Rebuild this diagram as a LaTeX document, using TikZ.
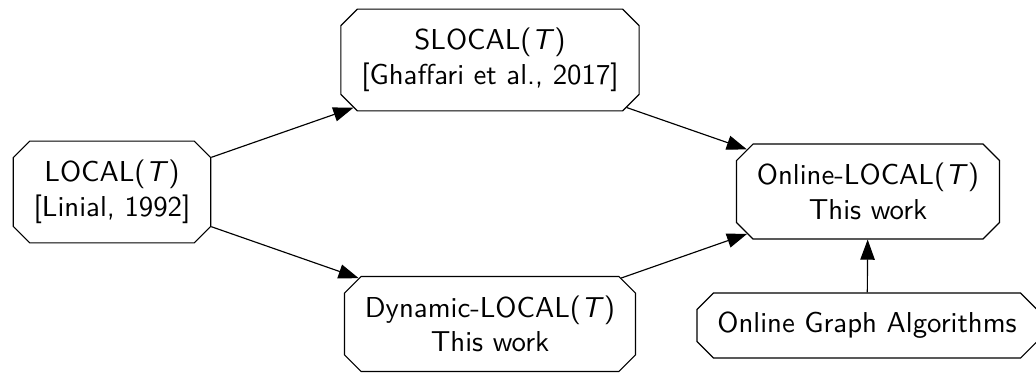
\documentclass[tikz,border=0pt]{standalone}
\usetikzlibrary{shapes.misc,arrows.meta}
\begin{document}
\begin{tikzpicture}[x=0.3472pt,y=-0.3472pt,
  box/.style={draw,chamfered rectangle,align=center,font=\sffamily,line width=0.4pt,inner xsep=4.2pt,inner ysep=3.8pt},
  arr/.style={-{Triangle[length=7pt,width=5pt]},line width=0.4pt}]
\useasboundingbox (0,0) rectangle (1036,372);
\node[box] (local) at (112,192) {LOCAL(\textit{T}\/)\\ {[}Linial, 1992{]}};
\node[box] (slocal) at (490,60) {SLOCAL(\textit{T}\/)\\ {[}Ghaffari et al., 2017{]}};
\node[box] (dyn) at (490,324) {Dynamic-LOCAL(\textit{T}\/)\\ This work};
\node[box] (online) at (868,191.5) {Online-LOCAL(\textit{T}\/)\\ This work};
\node[box] (oga) at (867,325.5) {Online Graph Algorithms};
\draw[arr] (local) -- (slocal);
\draw[arr] (local) -- (dyn);
\draw[arr] (slocal) -- (online);
\draw[arr] (dyn) -- (online);
\draw[arr] (oga) -- (online);
\end{tikzpicture}
\end{document}
